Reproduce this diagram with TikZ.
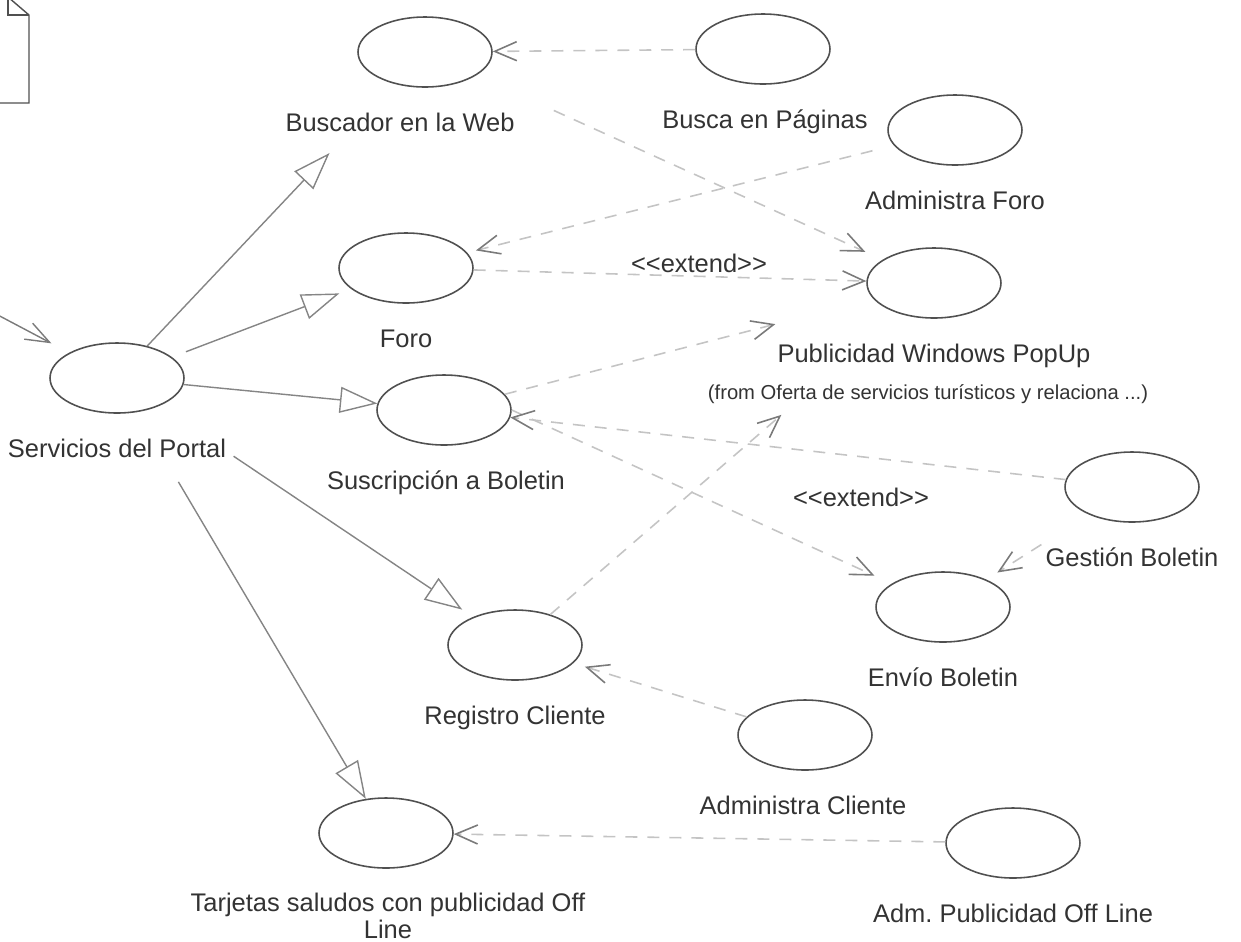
\documentclass[tikz,border=0pt]{standalone}
\usepackage{fontspec}
\setmainfont{Liberation Sans}
\usepackage{tikz}
\usetikzlibrary{arrows.meta,shapes.geometric,positioning}
\frenchspacing

\definecolor{ucline}{HTML}{505050}
\definecolor{genline}{HTML}{858585}
\definecolor{depline}{HTML}{C4C4C4}
\definecolor{tipline}{HTML}{7A7A7A}
\definecolor{txt}{HTML}{333333}

\tikzset{
  uc/.style={ellipse,draw=ucline,line width=0.9pt,minimum width=2.68cm,minimum height=1.4cm,inner sep=0pt},
  lbl/.style={text=txt,font=\fontsize{14.5}{15}\selectfont,anchor=base,inner sep=0pt},
  gen/.style={draw=genline,line width=0.8pt,-{Triangle[open,length=0.75cm,width=0.52cm]}},
  assoc/.style={draw=tipline,line width=0.8pt,-{Straight Barb[length=0.48cm,width=0.36cm]}},
  dep/.style={draw=depline,line width=0.9pt,dash pattern=on 0.24cm off 0.2cm,
    -{Straight Barb[length=0.44cm,width=0.38cm,color=tipline]}},
}
\newcommand{\extlbl}{<\kern0pt<extend>\kern0pt>}

\begin{document}
\begin{tikzpicture}[x=0.02cm,y=-0.02cm]
  \useasboundingbox (0,0) rectangle (1241,941);
  % note, cut by the left border
  \draw[ucline,line width=0.8pt] (-60,-3) -- (8,-3) -- (29,15) -- (29,103) -- (-60,103);
  \draw[ucline,line width=0.8pt] (8,-3) -- (8,15) -- (29,15);
  % use cases
  \node[uc] (busc) at (425,52) {};
  \node[uc] (buscpag) at (763,49) {};
  \node[uc] (admforo) at (955,130) {};
  \node[uc] (foro) at (406,268) {};
  \node[uc] (popup) at (934,283) {};
  \node[uc] (serv) at (117,378) {};
  \node[uc] (susc) at (444,410) {};
  \node[uc] (gest) at (1132,487) {};
  \node[uc] (envio) at (943,607) {};
  \node[uc] (reg) at (515,645) {};
  \node[uc] (admcli) at (805,735) {};
  \node[uc] (tarj) at (386,833) {};
  \node[uc] (admpub) at (1013,843) {};
  % names
  \node[lbl] (buscL) at (400,131) {Buscador en la Web};
  \node[lbl] (buscpagL) at (765,128) {Busca en Páginas};
  \node[lbl] (admforoL) at (955,209) {Administra Foro};
  \node[lbl] (foroL) at (406,347) {Foro};
  \node[lbl] (popupL) at (934,362) {Publicidad Windows PopUp};
  \node[lbl,font=\fontsize{11.5}{13}\selectfont] (popupF) at (928,399)
    {(from Oferta de servicios turísticos y relaciona ...)};
  \node[lbl] (servL) at (117,457) {Servicios del Portal};
  \node[lbl] (suscL) at (446,489) {Suscripción a Boletin};
  \node[lbl] (gestL) at (1132,566) {Gestión Boletin};
  \node[lbl] (envioL) at (943,686) {Envío Boletin};
  \node[lbl] (regL) at (515,724) {Registro Cliente};
  \node[lbl] (admcliL) at (803,814) {Administra Cliente};
  \node[lbl,align=center,anchor=north] (tarjL) at (388,893)
    {Tarjetas saludos con publicidad Off\\Line};
  \node[lbl] (admpubL) at (1013,922) {Adm. Publicidad Off Line};
  \node[lbl] (ext1) at (699,272) {\extlbl};
  \node[lbl] (ext2) at (861,506) {\extlbl};
  % generalizations
  \draw[gen,shorten >=1.9cm] (serv) -- (busc);
  \draw[gen,shorten <=0.3cm,shorten >=0.25cm] (serv) -- (foro);
  \draw[gen] (serv) -- (susc);
  \draw[gen,shorten <=1.8cm,shorten >=0.26cm] (serv) -- (reg);
  \draw[gen,shorten <=1.62cm] (serv) -- (tarj);
  % actor outside the picture
  \coordinate (actor) at (-40,295);
  \draw[assoc,shorten >=0.4cm] (actor) -- (serv);
  % include / extend
  \draw[dep] (buscpag) -- (busc);
  \draw[dep,shorten <=1.7cm,shorten >=0.38cm] (busc) -- (popup);
  \draw[dep,shorten <=0.44cm,shorten >=0.18cm] (admforo) -- (foro);
  \draw[dep] (foro) -- (popup);
  \draw[dep,shorten >=2.02cm] (susc) -- (popup);
  \draw[dep,shorten >=3.1cm] (reg) -- (popup);
  \draw[dep,shorten >=0.38cm] (susc.east) -- (envio);
  \draw[dep] (gest) -- (susc);
  \draw[dep,shorten <=1.12cm,shorten >=0.26cm] (gest) -- (envio);
  \draw[dep,shorten >=0.24cm] (admcli) -- (reg);
  \draw[dep] (admpub) -- (tarj);
\end{tikzpicture}
\end{document}
